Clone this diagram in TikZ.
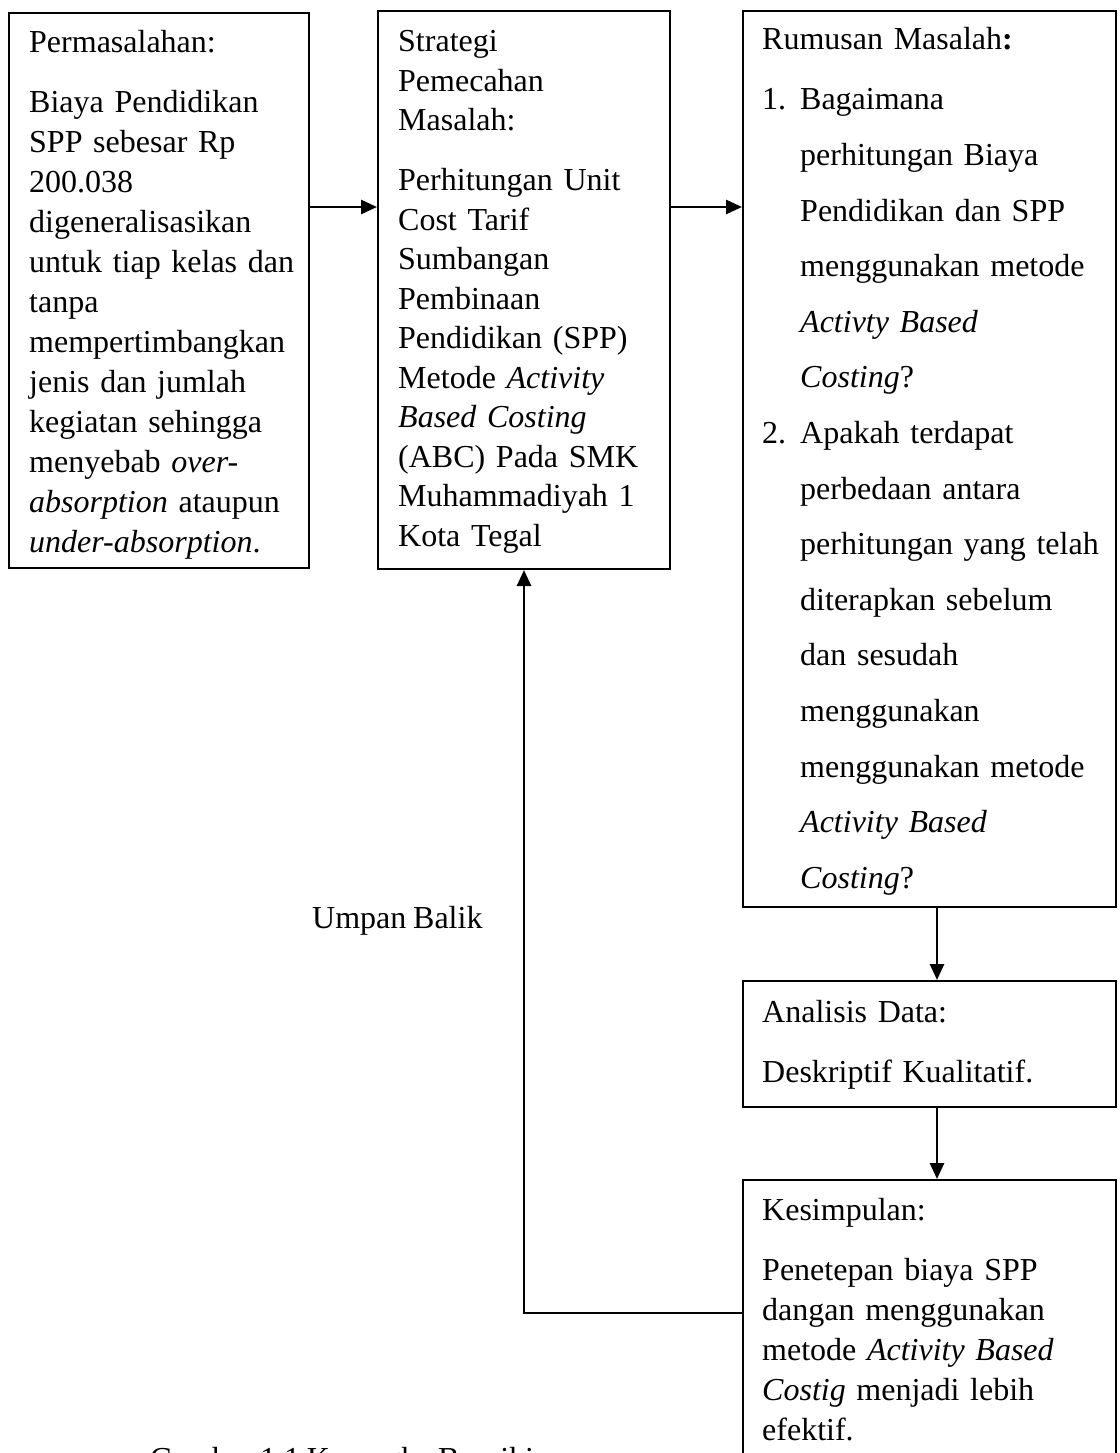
\documentclass[tikz,border=0pt]{standalone}
\usepackage{fontspec}
\setmainfont[WordSpace=0.85]{Liberation Serif}
\usetikzlibrary{arrows.meta,calc}
\begin{document}
\begin{tikzpicture}[x=1pt,y=-1pt,
  boxnode/.style={draw, line width=2pt, inner sep=0pt, anchor=north west},
  txt/.style={anchor=base west, inner sep=0pt, text width=380pt, align=left},
  lbl/.style={anchor=base west, inner sep=0pt, font=\fontsize{32}{40}\selectfont},
  arr/.style={line width=2.7pt, -{Triangle[length=16pt,width=14pt]}}]
\useasboundingbox (0,0) rectangle (1119,1453);
\clip (0,0) rectangle (1119,1453);
\fill[white] (0,0) rectangle (1119,1453);

% boxes
\node[boxnode, minimum width=300, minimum height=555] (b1) at (8,12) {};
\node[boxnode, minimum width=292, minimum height=558] (b2) at (377,10) {};
\node[boxnode, minimum width=373, minimum height=896] (b3) at (742,10) {};
\node[boxnode, minimum width=373, minimum height=126] (b4) at (742,980) {};
\node[boxnode, minimum width=373, minimum height=330] (b5) at (742,1179) {};

% texts
\node[txt, font=\fontsize{32}{40}\selectfont] (t1) at (29,53) {Permasalahan:\\[20pt]
Biaya Pendidikan\\
SPP sebesar Rp\\
200.038\\
digeneralisasikan\\
untuk tiap kelas dan\\
tanpa\\
mempertimbangkan\\
jenis dan jumlah\\
kegiatan sehingga\\
menyebab \textit{over-}\\
\textit{absorption} ataupun\\
\textit{under-absorption}.};

\node[txt, font=\fontsize{32}{39.5}\selectfont] (t2) at (398,52) {Strategi\\
Pemecahan\\
Masalah:\\[20.5pt]
Perhitungan Unit\\
Cost Tarif\\
Sumbangan\\
Pembinaan\\
Pendidikan (SPP)\\
Metode \textit{Activity}\\
\textit{Based Costing}\\
(ABC) Pada SMK\\
Muhammadiyah 1\\
Kota Tegal};

\node[txt, font=\fontsize{32}{55.6}\selectfont] (t3) at (762,50) {Rumusan Masalah\textbf{:}\\[4.4pt]
\makebox[38pt][l]{1.}Bagaimana\\
\hspace*{38pt}perhitungan Biaya\\
\hspace*{38pt}Pendidikan dan SPP\\
\hspace*{38pt}menggunakan metode\\
\hspace*{38pt}\textit{Activty Based}\\
\hspace*{38pt}\textit{Costing}?\\
\makebox[38pt][l]{2.}Apakah terdapat\\
\hspace*{38pt}perbedaan antara\\
\hspace*{38pt}perhitungan yang telah\\
\hspace*{38pt}diterapkan sebelum\\
\hspace*{38pt}dan sesudah\\
\hspace*{38pt}menggunakan\\
\hspace*{38pt}menggunakan metode\\
\hspace*{38pt}\textit{Activity Based}\\
\hspace*{38pt}\textit{Costing}?};

\node[txt, font=\fontsize{32}{40}\selectfont] (t4) at (762,1022) {Analisis Data:\\[20pt]
Deskriptif Kualitatif.};

\node[txt, font=\fontsize{32}{40}\selectfont] (t5) at (762,1220) {Kesimpulan:\\[20pt]
Penetepan biaya SPP\\
dangan menggunakan\\
metode \textit{Activity Based}\\
\textit{Costig} menjadi lebih\\
efektif.};

% connectors
\draw[arr] ([yshift=-195pt]b1.north east) -- ([yshift=-197pt]b2.north west);
\draw[arr] ([yshift=-197pt]b2.north east) -- ([yshift=-197pt]b3.north west);
\draw[arr] ([xshift=7.5pt]b3.south) -- ([xshift=7.5pt]b4.north);
\draw[arr] ([xshift=7.5pt]b4.south) -- ([xshift=7.5pt]b5.north);
\draw[arr] ([yshift=-134pt]b5.north west) -| (b2.south);

% labels
\node[lbl] (fb) at (312,928) {Umpan Balik};
\node[lbl] (cap) at (150,1469) {Gambar 1.1 Kerangka Berpikir};
\end{tikzpicture}
\end{document}
